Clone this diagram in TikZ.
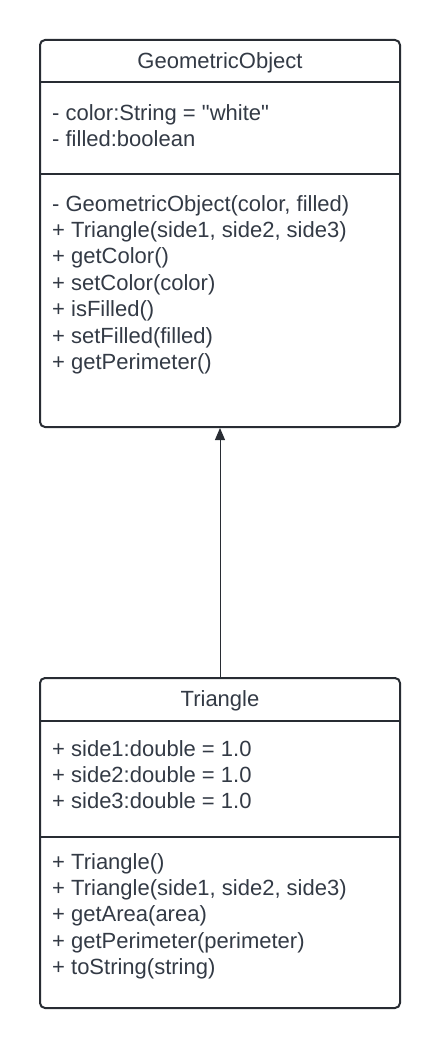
\documentclass[tikz,border=0pt]{standalone}
\usepackage{fontspec}
\newfontfamily\umlfont{Liberation Sans}
\usetikzlibrary{arrows.meta}
\definecolor{txt}{HTML}{333A45}
\definecolor{ln}{HTML}{282C33}
\begin{document}
\begin{tikzpicture}[x=1pt,y=-1pt,
  classbox/.style={draw=ln,line width=2pt,rounded corners=5pt,minimum width=360pt,inner sep=0pt},
  sep/.style={draw=ln,line width=2pt},
  lbl/.style={text=txt,font=\umlfont\fontsize{22}{26.4}\selectfont,inner sep=0pt},
  mem/.style={lbl,align=left,anchor=base west},
  ttl/.style={lbl,anchor=base}]
\useasboundingbox (0,0) rectangle (440,1049);
% GeometricObject
\node[classbox,minimum height=387pt] (go) at (220,233.5) {};
\draw[sep] (40,82) -- (400,82);
\draw[sep] (40,174) -- (400,174);
\node[ttl] (gotitle) at (220,68) {GeometricObject};
% base anchor = baseline of the last line
\node[mem] (goattr) at (52,146.5) {- color:String = "white"\\- filled:boolean};
\node[mem] (gometh) at (52,369.5) {- GeometricObject(color, filled)\\+ Triangle(side1, side2, side3)\\+ getColor()\\+ setColor(color)\\+ isFilled()\\+ setFilled(filled)\\+ getPerimeter()};
% Triangle
\node[classbox,minimum height=330pt] (tri) at (220,843) {};
\draw[sep] (40,721) -- (400,721);
\draw[sep] (40,837) -- (400,837);
\node[ttl] (trititle) at (220,706) {Triangle};
\node[mem] (triattr) at (52,808.8) {+ side1:double = 1.0\\+ side2:double = 1.0\\+ side3:double = 1.0};
\node[mem] (trimeth) at (52,974.6) {+ Triangle()\\+ Triangle(side1, side2, side3)\\+ getArea(area)\\+ getPerimeter(perimeter)\\+ toString(string)};
% inheritance
\draw[ln,line width=1pt,-{Triangle[length=12pt,width=10pt]}] (tri.north) -- (go.south);
\end{tikzpicture}
\end{document}
